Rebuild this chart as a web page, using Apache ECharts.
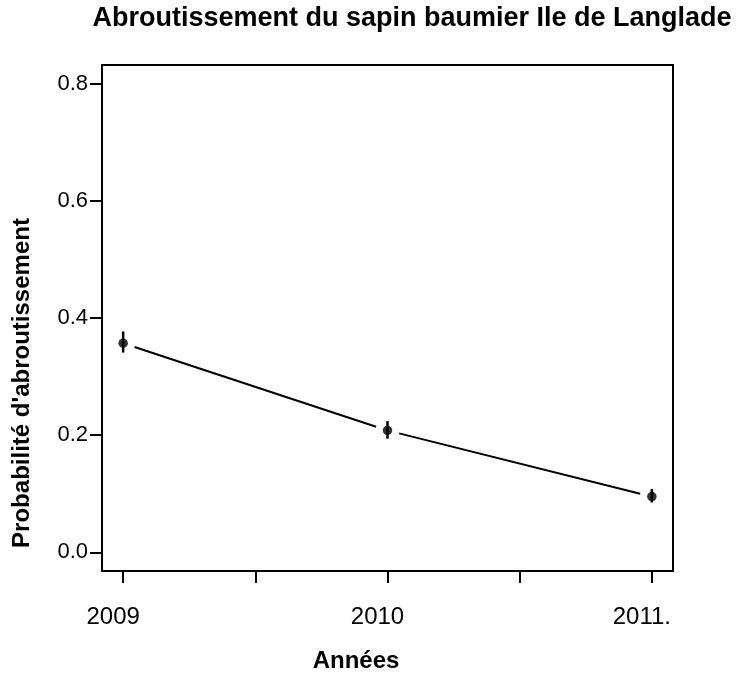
<!DOCTYPE html>
<html><head><meta charset="utf-8">
<script src="https://cdn.jsdelivr.net/npm/echarts@6/dist/echarts.min.js"></script>
<style>html,body{margin:0;padding:0;background:#fff}#c{width:745px;height:675px}</style>
</head><body><div id="c"></div>
<script>
const years = [2009, 2010, 2011];
const yearLabels = ['2009', '2010', '2011.'];
const probs = [0.357, 0.208, 0.095];
const lower = [0.341, 0.194, 0.085];
const upper = [0.377, 0.224, 0.108];
const xTicks = [2009, 2009.5, 2010, 2010.5, 2011];
const yTicks = [0, 0.2, 0.4, 0.6, 0.8];

const chart = echarts.init(document.getElementById('c'));
const font = 'Liberation Sans, Arial, sans-serif';
chart.setOption({
  animation: false,
  grid: {left: 102, right: 72, top: 65, bottom: 104, show: true, borderColor: '#000', borderWidth: 2, backgroundColor: 'transparent'},
  xAxis: {type: 'value', min: 2008.92, max: 2011.08,
    axisLine: {show: false, onZero: false}, splitLine: {show: false},
    axisTick: {show: true, customValues: xTicks, length: 12, lineStyle: {color: '#000', width: 2}},
    axisLabel: {customValues: years, margin: 34, fontFamily: font, fontSize: 24, color: '#000',
      padding: [0, 20, 0, 0],
      formatter: v => yearLabels[years.indexOf(Math.round(v))]}},
  yAxis: {type: 'value', min: -0.032, max: 0.832,
    axisLine: {show: false, onZero: false}, splitLine: {show: false},
    axisTick: {show: true, customValues: yTicks, length: 12, lineStyle: {color: '#000', width: 2}},
    axisLabel: {customValues: yTicks, margin: 14, fontFamily: font, fontSize: 22, color: '#000',
      padding: [0, 0, 10, 0],
      formatter: v => v.toFixed(1)}},
  graphic: [
    {type: 'text', x: 412, y: 19, style: {text: 'Abroutissement du sapin baumier Ile de Langlade', align: 'center', verticalAlign: 'middle', font: 'bold 27px ' + font, fill: '#000'}},
    {type: 'text', x: 356, y: 661, style: {text: 'Années', align: 'center', verticalAlign: 'middle', font: 'bold 24px ' + font, fill: '#000'}},
    {type: 'text', rotation: Math.PI / 2, x: 22, y: 383, style: {text: "Probabilité d'abroutissement", align: 'center', verticalAlign: 'middle', font: 'bold 24px ' + font, fill: '#000'}}
  ],
  series: [
    {type: 'custom', renderItem: (params, api) => {
      const i = params.dataIndex;
      if (i >= years.length - 1) return null;
      const a = api.coord([years[i], probs[i]]);
      const b = api.coord([years[i + 1], probs[i + 1]]);
      const dx = b[0] - a[0], dy = b[1] - a[1], L = Math.hypot(dx, dy), g = 12;
      return {type: 'line', shape: {x1: a[0] + dx / L * g, y1: a[1] + dy / L * g, x2: b[0] - dx / L * g, y2: b[1] - dy / L * g},
        style: {stroke: '#000', lineWidth: 2}};
    }, data: years.map((y, i) => [y, probs[i]]), z: 2},
    {type: 'custom', renderItem: (params, api) => {
      const i = params.dataIndex;
      const lo = api.coord([years[i], lower[i]]);
      const hi = api.coord([years[i], upper[i]]);
      return {type: 'line', shape: {x1: lo[0], y1: lo[1], x2: hi[0], y2: hi[1]}, style: {stroke: '#000', lineWidth: 2.5}};
    }, data: years.map((y, i) => [y, lower[i], upper[i]]), z: 3},
    {type: 'scatter', data: years.map((y, i) => [y, probs[i]]), symbol: 'circle', symbolSize: 9.5,
      itemStyle: {color: '#000'}, z: 4}
  ]
});
</script></body></html>
